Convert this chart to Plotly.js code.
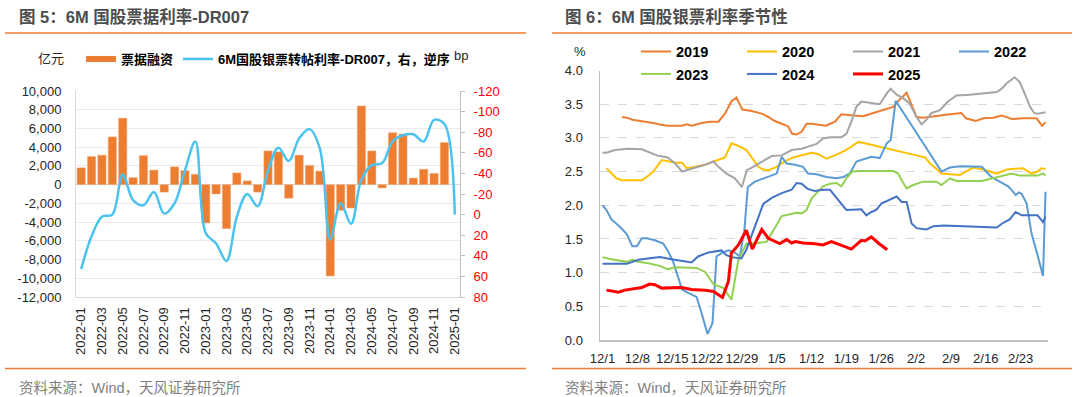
<!DOCTYPE html>
<html>
<head>
<meta charset="utf-8">
<script src="https://cdn.plot.ly/plotly-3.0.1.min.js"></script>
<style>
html,body{margin:0;padding:0;background:#fff;}
#chart{width:1080px;height:397px;}
</style>
</head>
<body>
<div id="chart"></div>
<script>
// ---------- Left chart data ----------
const months = ['2022-01','2022-02','2022-03','2022-04','2022-05','2022-06','2022-07','2022-08','2022-09','2022-10','2022-11','2022-12',
  '2023-01','2023-02','2023-03','2023-04','2023-05','2023-06','2023-07','2023-08','2023-09','2023-10','2023-11','2023-12',
  '2024-01','2024-02','2024-03','2024-04','2024-05','2024-06','2024-07','2024-08','2024-09','2024-10','2024-11','2024-12','2025-01'];
// 票据融资 (亿元)
const billFinancing = [1800,3000,3150,5100,7100,750,3100,1550,-800,1900,1500,1100,
  -4100,-1000,-4700,1250,400,-800,3600,3500,-1450,3150,2050,1450,
  -9750,-2750,-2500,8400,3600,-350,5550,5400,700,1650,1200,4500,null];
// 6M国股银票转帖利率-DR007 (bp, right axis, reversed)
const spreadBp = [53,21,2,0,-39,-14,-9,-22,-1,-11,-43,-71,
  18,28,45,2,-20,-8,-43,-65,-52,-74,-83,-64,
  24,-11,9,-34,-48,-50,-71,-77,-78,-71,-92,-88,0];
const leftTickMonths = months.filter((m, i) => i % 2 === 0);
const leftYTicks = [10000,8000,6000,4000,2000,0,-2000,-4000,-6000,-8000,-10000,-12000];
const rightYTicks = [-120,-100,-80,-60,-40,-20,0,20,40,60,80];

// ---------- Right chart data: [day offset from 12/1, rate %] ----------
const dayTickLabels = ['12/1','12/8','12/15','12/22','12/29','1/5','1/12','1/19','1/26','2/2','2/9','2/16','2/23'];
const dayTickVals = [0,7,14,21,28,35,42,49,56,63,70,77,84];
const s2019 = [[3.9,3.31],[4.9,3.30],[6,3.27],[7.9,3.25],[10.2,3.22],[11.5,3.20],[13.1,3.18],[16,3.18],[16.9,3.20],[17.9,3.18],
  [19.9,3.22],[21.6,3.24],[23.3,3.24],[24.6,3.36],[25.9,3.54],[26.9,3.60],[28.1,3.42],[30,3.40],[32,3.36],[33.3,3.31],
  [34.6,3.25],[36,3.21],[37.3,3.17],[38.1,3.06],[39,3.05],[40,3.09],[41,3.21],[42,3.21],[43,3.20],[44.9,3.18],
  [46.7,3.24],[48,3.35],[49.4,3.34],[50.4,3.33],[52.4,3.32],[54.4,3.37],[56.4,3.41],[58.4,3.46],[59.6,3.56],[61.1,3.67],
  [61.8,3.54],[63.1,3.31],[64.4,3.30],[67.1,3.32],[69.8,3.35],[72.1,3.37],[73,3.29],[75,3.25],[76.5,3.29],[78.5,3.30],
  [80.2,3.33],[81.5,3.30],[82.2,3.28],[84.5,3.29],[87.2,3.29],[88.3,3.18],[89,3.23]];
const s2020 = [[0.8,2.55],[1.8,2.47],[2.8,2.40],[3.9,2.37],[7.9,2.37],[8.9,2.42],[10.2,2.50],[11.9,2.67],[13.2,2.65],[14.6,2.63],
  [16,2.63],[16.9,2.55],[18.6,2.57],[20.6,2.60],[22.3,2.65],[23.6,2.68],[24.6,2.71],[25.9,2.92],[27.3,2.88],[28.9,2.82],
  [30.3,2.67],[31.3,2.57],[32.3,2.53],[33.3,2.52],[35,2.57],[36.6,2.65],[38.3,2.71],[40,2.74],[42,2.78],[43.3,2.76],
  [45,2.69],[46.7,2.74],[48.7,2.81],[50,2.87],[51.4,2.94],[52.7,2.92],[55.1,2.88],[57.7,2.84],[60.4,2.79],[63.1,2.74],
  [64.8,2.71],[65.8,2.62],[67.1,2.54],[68.1,2.47],[69.8,2.46],[71.8,2.45],[73.5,2.52],[74.5,2.56],[76.5,2.53],[78.1,2.50],
  [79.2,2.47],[81.2,2.53],[84.5,2.55],[86.2,2.47],[87.4,2.50],[88.2,2.55],[89,2.54]];
const s2021 = [[0,2.78],[0.8,2.78],[2.5,2.82],[5.2,2.84],[7.9,2.83],[9.2,2.79],[10.9,2.74],[13.1,2.71],[14.6,2.62],[16,2.50],
  [16.9,2.52],[18.6,2.56],[20.6,2.60],[22.3,2.65],[23.3,2.57],[24.9,2.47],[26.6,2.40],[28,2.27],[29,2.52],[30,2.56],
  [32,2.65],[34,2.73],[36,2.74],[38,2.82],[40,2.84],[42,2.89],[43,2.91],[44.3,2.99],[45.7,3.01],[48,3.01],
  [49,3.06],[50,3.24],[51,3.46],[52,3.54],[53.7,3.52],[55.7,3.50],[57.1,3.66],[57.9,3.73],[59.1,3.64],[60.4,3.59],
  [61.7,3.51],[63.1,3.31],[64.1,3.20],[65.1,3.27],[66.1,3.37],[67.8,3.41],[69.4,3.54],[71.1,3.63],[73.8,3.64],[76.5,3.66],
  [79.2,3.68],[80.2,3.73],[81.2,3.81],[82.8,3.90],[83.8,3.83],[84.8,3.66],[85.9,3.46],[86.7,3.37],[87.4,3.36],[89,3.38]];
const s2022 = [[0,2.00],[0.8,1.93],[1.8,1.79],[3.5,1.68],[4.9,1.57],[6,1.39],[6.9,1.39],[7.9,1.51],[8.9,1.51],[10.5,1.48],
  [12.2,1.43],[13.1,1.33],[14.2,1.16],[15.2,0.94],[16,0.75],[17.2,0.70],[18.9,0.64],[19.9,0.40],[21.1,0.09],[22.1,0.25],
  [22.9,1.24],[23.9,1.29],[25.3,1.33],[26.3,1.31],[27.6,1.24],[28.5,1.63],[29.2,2.27],[30.6,2.35],[33.3,2.42],[35,2.47],
  [36,2.72],[37,2.62],[38.7,2.60],[40.3,2.57],[41.3,2.47],[43,2.46],[45,2.42],[47,2.40],[48.4,2.42],[49.7,2.47],
  [51,2.65],[52.4,2.68],[54,2.72],[55.7,2.70],[57.1,2.92],[57.9,2.97],[58.9,3.55],[68.1,2.50],[69.8,2.56],[71.8,2.58],
  [75.2,2.58],[76.2,2.57],[78.1,2.42],[79.8,2.35],[81.5,2.28],[82.5,2.20],[83,2.15],[83.6,2.19],[84.2,2.17],[85.2,2.03],
  [86.2,1.58],[87.4,1.26],[88.5,0.95],[89,2.20]];
const s2023 = [[0,1.23],[1.8,1.20],[4.9,1.16],[6,1.19],[7.2,1.16],[9.2,1.14],[11.5,1.10],[13.1,1.05],[14.6,1.08],[16.9,1.07],
  [18.9,1.07],[20.6,1.01],[22.3,0.83],[24.3,0.77],[25.9,0.60],[27.3,1.19],[28.9,1.43],[31.3,1.44],[33,1.46],[34.6,1.66],
  [36,1.84],[39,1.89],[40,1.88],[41,1.93],[42,2.10],[43,2.18],[44.3,2.28],[45.7,2.32],[47,2.33],[48,2.28],
  [49,2.40],[50.2,2.50],[51.7,2.51],[58.4,2.51],[59.4,2.47],[60.1,2.37],[61.1,2.25],[62.4,2.30],[64.4,2.35],[67.1,2.35],
  [68.1,2.30],[69.8,2.40],[71.1,2.36],[76.2,2.36],[79.2,2.42],[82.2,2.47],[83.8,2.44],[87.4,2.44],[88.5,2.47],[89,2.44]];
const s2024 = [[0,1.13],[4.9,1.13],[7.2,1.19],[9.2,1.21],[11.5,1.23],[13.9,1.20],[15.9,1.18],[17.9,1.15],[19.2,1.24],[21.3,1.30],
  [23.9,1.33],[24.9,1.26],[25.9,1.23],[26.9,1.22],[27.9,1.21],[28.9,1.34],[30.3,1.63],[31.3,1.83],[32.3,2.02],[34,2.11],
  [36,2.18],[38,2.23],[39,2.33],[40,2.32],[41.3,2.24],[42.7,2.21],[44.3,2.23],[45.7,2.23],[47,2.12],[48,2.02],
  [49,1.93],[52,1.94],[53,1.85],[54,1.90],[55,1.93],[56.1,2.03],[59.1,2.13],[60.1,2.05],[61.1,2.05],[62.1,1.73],
  [63.1,1.66],[65.1,1.64],[66.5,1.69],[68.5,1.70],[79.2,1.67],[80.5,1.74],[81.8,1.79],[83,1.90],[84.2,1.85],[87.4,1.85],
  [88.5,1.75],[89,1.83]];
const s2025 = [[0.8,0.74],[1.8,0.73],[3.2,0.71],[4.5,0.74],[5.9,0.76],[7.9,0.78],[9.5,0.83],[10.5,0.82],[11.9,0.77],[15.9,0.78],
  [17.9,0.75],[20.6,0.74],[22.3,0.72],[23.3,0.67],[24.1,0.63],[25.3,0.87],[25.9,1.29],[27.3,1.41],[28.9,1.63],[30.1,1.35],
  [32,1.64],[33.3,1.51],[35.6,1.43],[37,1.49],[38,1.44],[38.7,1.46],[40.3,1.44],[42.7,1.43],[44.3,1.41],[46,1.46],
  [48,1.41],[50,1.35],[52,1.48],[52.7,1.47],[54,1.53],[55.4,1.44],[57.2,1.34]];

const seasonal = [
  {name:'2019', data:s2019, color:'#ED7D31', width:2, legend:'legend2'},
  {name:'2020', data:s2020, color:'#FFC000', width:2, legend:'legend2'},
  {name:'2021', data:s2021, color:'#A5A5A5', width:2, legend:'legend2'},
  {name:'2022', data:s2022, color:'#5B9BD5', width:2, legend:'legend2'},
  {name:'2023', data:s2023, color:'#92D050', width:2, legend:'legend3'},
  {name:'2024', data:s2024, color:'#4472C4', width:2, legend:'legend3'},
  {name:'2025', data:s2025, color:'#FF0000', width:3, legend:'legend3'}
];

const FONT = 'Liberation Sans, Arial, "Noto Sans CJK SC", sans-serif';
const W = 1080, H = 397;
const px = x => x / W;
const py = y => 1 - y / H;
const BAR_COLOR = '#ED7D31';

const traces = [
  {type:'bar', x:months, y:billFinancing, name:'票据融资', xaxis:'x', yaxis:'y', showlegend:false,
   marker:{color:BAR_COLOR, line:{color:'#F4B183', width:0.5}}, hoverinfo:'skip'},
  // legend-only entry drawn as a flat wide swatch, like the reference key
  {type:'scatter', mode:'lines', x:[null], y:[null], name:'票据融资', xaxis:'x', yaxis:'y',
   line:{color:BAR_COLOR, width:6}, legend:'legend', hoverinfo:'skip'},
  {type:'scatter', mode:'lines', x:months, y:spreadBp, name:'6M国股银票转帖利率-DR007，右，逆序', xaxis:'x', yaxis:'y2',
   line:{color:'#4BC3EF', width:2.5, shape:'spline', smoothing:1}, legend:'legend', hoverinfo:'skip'}
];
seasonal.forEach(s => {
  traces.push({type:'scatter', mode:'lines', name:s.name, x:s.data.map(p => p[0]), y:s.data.map(p => p[1]),
    xaxis:'x2', yaxis:'y3', line:{color:s.color, width:s.width}, legend:s.legend, hoverinfo:'skip'});
});

const tickFont = {family:FONT, size:13, color:'#262626'};
const legendBase = {orientation:'h', xanchor:'left', yanchor:'middle', bgcolor:'rgba(0,0,0,0)', borderwidth:0,
  itemwidth:30, itemclick:false, itemdoubleclick:false};

const layout = {
  width:W, height:H, margin:{l:0, r:0, t:0, b:0}, paper_bgcolor:'#fff', plot_bgcolor:'rgba(0,0,0,0)',
  font:{family:FONT, size:13, color:'#262626'},
  bargap:0.2, showlegend:true,
  xaxis:{domain:[px(76), px(460)], anchor:'y', type:'category', range:[-0.5, 36.5],
    tickmode:'array', tickvals:leftTickMonths, ticktext:leftTickMonths, tickangle:-90, tickfont:tickFont,
    showline:true, linecolor:'#D9D9D9', linewidth:1, ticks:'', showgrid:false, zeroline:false, ticklabelstandoff:4},
  yaxis:{domain:[py(297), py(91)], anchor:'x', range:[-12000, 10000], tickmode:'array', tickvals:leftYTicks,
    ticktext:leftYTicks.map(v => (v < 0 ? '-' : '') + Math.abs(v).toLocaleString('en-US')),
    tickfont:tickFont, showline:true, linecolor:'#D9D9D9', linewidth:1, ticks:'', showgrid:true, gridcolor:'#EBEBEB',
    gridwidth:1, zeroline:true, zerolinecolor:'#D9D9D9', zerolinewidth:1, ticklabelstandoff:11},
  yaxis2:{overlaying:'y', side:'right', anchor:'x', range:[80, -120], tickmode:'array', tickvals:rightYTicks,
    ticktext:rightYTicks.map(v => String(v)), tickfont:{family:FONT, size:13, color:'#FF0000'},
    showline:true, linecolor:'#BFBFBF', linewidth:1, ticks:'outside', ticklen:4, tickcolor:'#BFBFBF',
    showgrid:false, zeroline:false, ticklabelstandoff:6},
  xaxis2:{domain:[px(600), px(1048)], anchor:'y3', range:[-0.5, 89.5], tickmode:'array', tickvals:dayTickVals,
    ticktext:dayTickLabels, tickfont:tickFont, showline:true, linecolor:'#BFBFBF', linewidth:1.5, ticks:'',
    showgrid:false, zeroline:false, ticklabelstandoff:6},
  yaxis3:{domain:[py(340), py(70.5)], anchor:'x2', range:[0, 4], dtick:0.5, tickformat:'.1f', tickfont:tickFont,
    showline:true, linecolor:'#BFBFBF', linewidth:1.5, ticks:'', showgrid:true, gridcolor:'#D9D9D9', griddash:'dash',
    gridwidth:1, zeroline:false, ticklabelstandoff:13},
  legend:Object.assign({}, legendBase, {x:px(81), y:py(59), font:{family:FONT, size:13, color:'#000', weight:'bold'}}),
  legend2:Object.assign({}, legendBase, {x:px(636), y:py(51.5), entrywidth:61, entrywidthmode:'pixels',
    font:{family:FONT, size:14.5, color:'#000', weight:'bold'}}),
  legend3:Object.assign({}, legendBase, {x:px(636), y:py(74), entrywidth:61, entrywidthmode:'pixels',
    font:{family:FONT, size:14.5, color:'#000', weight:'bold'}}),
  shapes:[
    {type:'line', xref:'paper', yref:'paper', x0:px(5), x1:px(526), y0:py(33), y1:py(33), line:{color:'#ED7D31', width:1.5}},
    {type:'line', xref:'paper', yref:'paper', x0:px(552), x1:px(1072), y0:py(33), y1:py(33), line:{color:'#ED7D31', width:1.5}},
    {type:'line', xref:'paper', yref:'paper', x0:px(5), x1:px(526), y0:py(368.5), y1:py(368.5), line:{color:'#ED7D31', width:1.5}},
    {type:'line', xref:'paper', yref:'paper', x0:px(552), x1:px(1072), y0:py(368.5), y1:py(368.5), line:{color:'#ED7D31', width:1.5}}
  ],
  annotations:[
    {xref:'paper', yref:'paper', x:px(17), y:py(16), xanchor:'left', yanchor:'middle', showarrow:false,
     text:'图 5：6M 国股票据利率-DR007', font:{family:FONT, size:16.5, color:'#4D4D4D', weight:'bold'}},
    {xref:'paper', yref:'paper', x:px(563), y:py(16.5), xanchor:'left', yanchor:'middle', showarrow:false,
     text:'图 6：6M 国股银票利率季节性', font:{family:FONT, size:16.5, color:'#4D4D4D', weight:'bold'}},
    {xref:'paper', yref:'paper', x:px(17), y:py(388), xanchor:'left', yanchor:'middle', showarrow:false,
     text:'资料来源：Wind，天风证券研究所', font:{family:FONT, size:14.5, color:'#7F7F7F'}},
    {xref:'paper', yref:'paper', x:px(563), y:py(388), xanchor:'left', yanchor:'middle', showarrow:false,
     text:'资料来源：Wind，天风证券研究所', font:{family:FONT, size:14.5, color:'#7F7F7F'}},
    {xref:'paper', yref:'paper', x:px(50.5), y:py(58.5), xanchor:'center', yanchor:'middle', showarrow:false,
     text:'亿元', font:{family:FONT, size:13, color:'#262626'}},
    {xref:'paper', yref:'paper', x:px(452), y:py(55), xanchor:'left', yanchor:'middle', showarrow:false,
     text:'bp', font:{family:FONT, size:13, color:'#262626'}},
    {xref:'paper', yref:'paper', x:px(579.5), y:py(51.5), xanchor:'center', yanchor:'middle', showarrow:false,
     text:'%', font:{family:FONT, size:13, color:'#262626'}}
  ]
};

Plotly.newPlot('chart', traces, layout, {staticPlot:true, displayModeBar:false});
</script>
</body>
</html>
